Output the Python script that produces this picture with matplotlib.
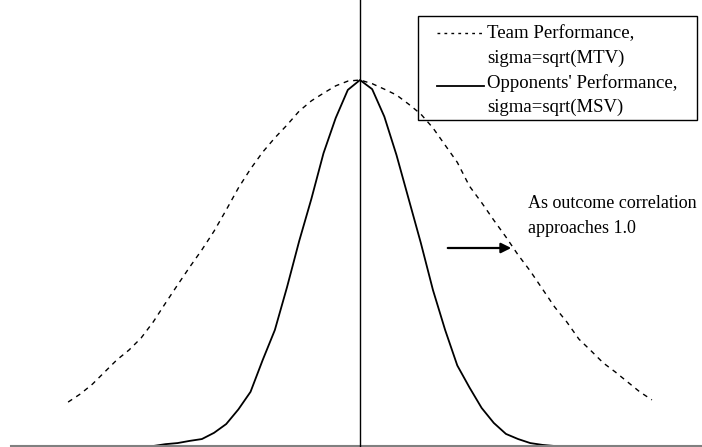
import numpy as np
import matplotlib.pyplot as plt
from matplotlib.patches import Rectangle
from matplotlib.lines import Line2D

plt.rcParams['font.family'] = ['Liberation Serif', 'DejaVu Serif']

# x positions (in standard units) where the curves were read
x = [-3.0, -2.875, -2.75, -2.625, -2.5, -2.375, -2.25, -2.125, -2.0, -1.875,
     -1.75, -1.625, -1.5, -1.375, -1.25, -1.125, -1.0, -0.875, -0.75, -0.625,
     -0.5, -0.375, -0.25, -0.125, 0.0, 0.125, 0.25, 0.375, 0.5, 0.625,
     0.75, 0.875, 1.0, 1.125, 1.25, 1.375, 1.5, 1.625, 1.75, 1.875,
     2.0, 2.125, 2.25, 2.375, 2.5, 2.625, 2.75, 2.875, 3.0]

# relative height of each curve (peak = 1)
team = [0.120, 0.142, 0.169, 0.202, 0.235, 0.262, 0.295, 0.339, 0.390, 0.440,
        0.489, 0.536, 0.587, 0.645, 0.705, 0.757, 0.803, 0.842, 0.877, 0.915,
        0.943, 0.964, 0.984, 0.997, 1.0, 0.990, 0.975, 0.959, 0.934, 0.907,
        0.869, 0.822, 0.775, 0.710, 0.665, 0.617, 0.571, 0.522, 0.478, 0.429,
        0.380, 0.339, 0.292, 0.260, 0.227, 0.202, 0.175, 0.148, 0.126]
opp = [0.0, 0.0, 0.0, 0.0, 0.0, 0.0, 0.0, 0.0, 0.005, 0.008,
       0.014, 0.019, 0.036, 0.060, 0.100, 0.148, 0.235, 0.317, 0.434, 0.560,
       0.675, 0.800, 0.896, 0.973, 1.0, 0.975, 0.900, 0.795, 0.675, 0.555,
       0.426, 0.317, 0.220, 0.160, 0.104, 0.063, 0.033, 0.019, 0.008, 0.003,
       0.0, 0.0, 0.0, 0.0, 0.0, 0.0, 0.0, 0.0, 0.0]

team_label = ["Team Performance,", "sigma=sqrt(MTV)"]
opp_label = ["Opponents' Performance,", "sigma=sqrt(MSV)"]
note = ["As outcome correlation", "approaches 1.0"]

W, H = 702, 447
fig = plt.figure(figsize=(W / 100, H / 100), dpi=100)
ax = fig.add_axes([0, 0, 1, 1])

ax.plot(x, team, color='black', lw=1.0, linestyle=(0, (3.5, 3.5)))
ax.plot(x, opp, color='black', lw=1.3)

ax.set_xlim(-360 / 97.3, (W - 360) / 97.3)
ax.set_ylim(-1 / 366, 446 / 366)
ax.axhline(0, xmin=11 / W, color='#808080', lw=1.5)
ax.axvline(0, color='black', lw=1.0)
ax.axis('off')

# legend box drawn in figure pixels (y measured from top)
def fp(px, py):
    return px, H - py

fig.patches.append(Rectangle(fp(418, 120), 697 - 418, 120 - 16, transform=None,
                             fill=False, edgecolor='black', lw=1.0))
fig.lines.append(Line2D([437, 483], [H - 33, H - 33], transform=None,
                        color='black', lw=1.0, linestyle=(0, (2, 3))))
fig.lines.append(Line2D([437, 484], [H - 86, H - 86], transform=None,
                        color='black', lw=1.3))
for txt, py in zip(team_label + opp_label, [38, 63, 88, 112]):
    fig.text(487, H - py, txt, transform=None, fontsize=13.5, va='baseline', ha='left')

# annotation
ax.annotate('', xy=fp(514, 248), xycoords='figure pixels',
            xytext=fp(445, 248), textcoords='figure pixels',
            arrowprops=dict(arrowstyle='-|>', color='black', lw=1.6, mutation_scale=15))
fig.text(528, H - 208, note[0], transform=None, fontsize=13, va='baseline')
fig.text(528, H - 233, note[1], transform=None, fontsize=13, va='baseline')

fig.savefig('out.png', dpi=100)
